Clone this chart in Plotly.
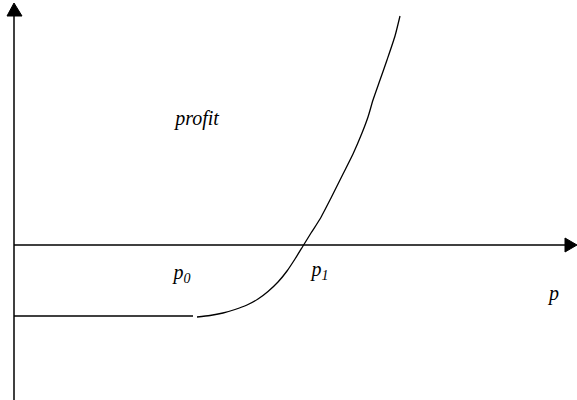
import plotly.graph_objects as go

# Data (p along horizontal axis, profit along vertical axis; origin at axis crossing)
flat_p = [0, 179]
flat_profit = [-71, -71]

curve_p = [183, 196, 209, 221, 233, 244, 254, 264, 273, 281, 289, 297, 306,
           317, 329, 339, 348, 354, 359, 366, 373, 381, 386]
curve_profit = [-72, -70.5, -68, -64.5, -60, -54, -46.5, -37, -26, -14, -1, 12, 26,
                47, 71, 91, 112, 128, 145, 165, 185, 209, 229]

labels = ["profit", "p<sub>0</sub>", "p<sub>1</sub>", "p"]
label_x = [183, 168, 306, 540]
label_y = [125, -29, -26, -50]

X_MIN, X_MAX = -14, 563
Y_MIN, Y_MAX = -155, 245

fig = go.Figure()

# axes lines
fig.add_trace(go.Scatter(x=[0, 551], y=[0, 0], mode="lines",
                         line=dict(color="black", width=1.5), hoverinfo="skip", showlegend=False))
fig.add_trace(go.Scatter(x=[0, 0], y=[Y_MIN, 229], mode="lines",
                         line=dict(color="black", width=1.5), hoverinfo="skip", showlegend=False))

# flat segment
fig.add_trace(go.Scatter(x=flat_p, y=flat_profit, mode="lines",
                         line=dict(color="black", width=1.3), showlegend=False))
# profit curve
fig.add_trace(go.Scatter(x=curve_p, y=curve_profit, mode="lines",
                         line=dict(color="black", width=1.3, shape="spline", smoothing=0.6),
                         showlegend=False))

# arrowheads
fig.add_shape(type="path", path="M 551 -7 L 563 0 L 551 7 Z",
              fillcolor="black", line=dict(color="black", width=1))
fig.add_shape(type="path", path="M -7 229 L 0 242 L 8 229 Z",
              fillcolor="black", line=dict(color="black", width=1))

# labels
fig.add_trace(go.Scatter(x=label_x, y=label_y, text=labels, mode="text",
                         textposition="middle center",
                         textfont=dict(family="Liberation Serif", size=20, color="black",
                                       style="italic"),
                         hoverinfo="skip", showlegend=False))

fig.update_layout(
    width=577, height=400,
    margin=dict(l=0, r=0, t=0, b=0),
    plot_bgcolor="white", paper_bgcolor="white",
    xaxis=dict(range=[X_MIN, X_MAX], visible=False, fixedrange=True),
    yaxis=dict(range=[Y_MIN, Y_MAX], visible=False, fixedrange=True),
    hovermode=False,
)

fig.write_html("out.html", config={"displayModeBar": False, "staticPlot": True},
               post_script="document.body.style.margin='0';document.body.style.overflow='hidden';")
